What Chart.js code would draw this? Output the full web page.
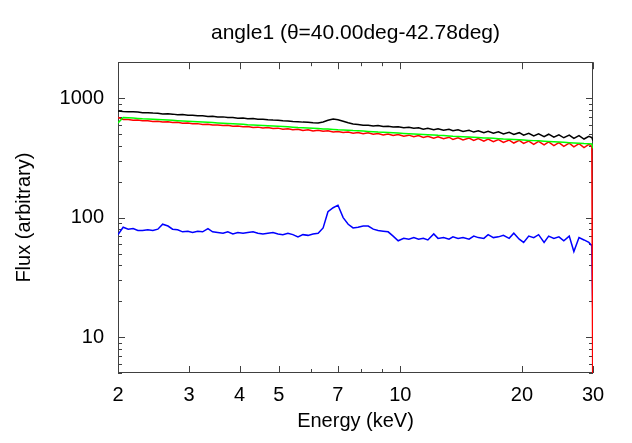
<!DOCTYPE html>
<html>
<head>
<meta charset="utf-8">
<script src="https://cdn.jsdelivr.net/npm/chart.js@4.4.1/dist/chart.umd.min.js"></script>
<style>
  body { margin: 0; background: #fff; }
  #wrap { width: 632px; height: 443px; }
</style>
</head>
<body>
<div id="wrap"><canvas id="myChart"></canvas></div>
<script>
// energy channels (keV)
const energy = [
  2.00, 2.06, 2.12, 2.18, 2.24, 2.30, 2.37, 2.44, 2.51, 2.58,
  2.66, 2.73, 2.81, 2.89, 2.98, 3.06, 3.15, 3.24, 3.34, 3.43,
  3.53, 3.64, 3.74, 3.85, 3.96, 4.08, 4.19, 4.32, 4.44, 4.57,
  4.70, 4.84, 4.98, 5.12, 5.27, 5.42, 5.58, 5.74, 5.91, 6.08,
  6.26, 6.44, 6.62, 6.82, 7.01, 7.22, 7.43, 7.64, 7.86, 8.09,
  8.33, 8.57, 8.81, 9.07, 9.33, 9.60, 9.88, 10.2, 10.5, 10.8,
  11.1, 11.4, 11.7, 12.1, 12.4, 12.8, 13.2, 13.5, 13.9, 14.3,
  14.8, 15.2, 15.6, 16.1, 16.5, 17.0, 17.5, 18.0, 18.6, 19.1,
  19.7, 20.2, 20.8, 21.4, 22.0, 22.7, 23.3, 24.0, 24.7, 25.4,
  26.2, 26.9, 27.7, 28.5, 29.3, 29.8, 30.0
];

// black
const totalFlux = [
  780, 772, 770, 768, 764, 755, 756, 750, 748, 738,
  740, 735, 726, 728, 719, 720, 711, 712, 703, 704,
  695, 697, 688, 689, 680, 683, 672, 674, 665, 667,
  659, 655, 654, 646, 645, 638, 636, 630, 628, 622,
  620, 632, 652, 668, 660, 640, 622, 608, 602, 592,
  594, 585, 589, 579, 582, 573, 576, 566, 570, 560,
  566, 550, 560, 545, 555, 538, 549, 533, 544, 527,
  539, 520, 533, 514, 528, 508, 523, 502, 518, 496,
  514, 489, 508, 483, 503, 477, 499, 472, 494, 466,
  490, 460, 485, 455, 480, 468, 440
];

// red
const directFlux = [
  688, 664, 663, 654, 655, 646, 647, 639, 641, 631,
  634, 625, 627, 617, 619, 610, 612, 602, 605, 596,
  597, 589, 592, 582, 585, 575, 579, 568, 572, 563,
  567, 556, 561, 549, 555, 543, 548, 537, 543, 531,
  538, 528, 533, 521, 526, 516, 521, 509, 515, 503,
  512, 498, 505, 492, 501, 486, 496, 481, 490, 475,
  486, 469, 480, 463, 475, 457, 471, 451, 466, 447,
  463, 443, 458, 436, 454, 432, 450, 426, 446, 421,
  443, 418, 437, 411, 434, 406, 430, 401, 425, 395,
  420, 391, 416, 386, 410, 395, 1
];

// green
const modelFlux = [
  620, 688, 685, 681, 677, 673, 670, 666, 663, 659,
  656, 652, 648, 645, 641, 638, 634, 631, 627, 624,
  620, 617, 614, 610, 607, 604, 600, 597, 594, 591,
  587, 584, 581, 578, 575, 572, 568, 566, 562, 559,
  557, 553, 551, 547, 544, 542, 539, 535, 533, 530,
  527, 524, 521, 519, 516, 513, 511, 507, 504, 502,
  499, 496, 494, 491, 488, 486, 483, 480, 478, 476,
  473, 471, 468, 465, 463, 461, 458, 455, 453, 451,
  448, 446, 443, 441, 439, 436, 434, 431, 429, 427,
  424, 422, 420, 417, 415, 414, 380
];

// blue
const reflectedFlux = [
  72, 83, 80, 81, 78, 78, 79, 78, 80, 88,
  85, 80, 79, 76, 77, 75, 77, 76, 81, 76,
  75, 74, 76, 73, 75, 74, 75, 76, 74, 73,
  74, 75, 73, 72, 74, 72, 69, 72, 71, 73,
  74, 82, 112, 121, 127, 100, 88, 82, 83, 85,
  85, 80, 78, 77, 76, 70, 64, 67, 66, 68,
  66, 67, 65, 73, 67, 68, 66, 69, 67, 68,
  66, 70, 68, 67, 72, 68, 69, 71, 67, 74,
  66, 62, 70, 68, 72, 62, 70, 67, 69, 64,
  70, 52, 68, 65, 62, 58, 12
];

const xMajor = [2, 3, 4, 5, 7, 10, 20, 30];
const xMinor = [6, 8, 9];
const yMajor = [10, 100, 1000];
const yMinor = [5, 6, 7, 8, 9, 20, 30, 40, 50, 60, 70, 80, 90,
  200, 300, 400, 500, 600, 700, 800, 900, 2000];

function points(arr) {
  return energy.map((e, i) => ({ x: e, y: arr[i] }));
}

function line(arr, color) {
  return {
    data: points(arr),
    borderColor: color,
    borderWidth: 1.5,
    pointRadius: 0,
    fill: false
  };
}

// gnuplot style box with inward ticks on all four sides
const boxTicks = {
  id: 'boxTicks',
  beforeDatasetsDraw(chart) {
    const { ctx, chartArea: a, scales: { x, y } } = chart;
    ctx.save();
    ctx.strokeStyle = '#404040';
    ctx.lineWidth = 1;
    ctx.strokeRect(Math.round(a.left) + 0.5, Math.round(a.top) + 0.5,
      Math.round(a.width) - 1, Math.round(a.height) - 1);
    ctx.beginPath();
    xMajor.concat(xMinor).forEach(v => {
      const px = Math.round(x.getPixelForValue(v)) + 0.5;
      const len = xMajor.includes(v) ? 7 : 4;
      ctx.moveTo(px, a.bottom); ctx.lineTo(px, a.bottom - len);
      ctx.moveTo(px, a.top); ctx.lineTo(px, a.top + len);
    });
    yMajor.concat(yMinor).forEach(v => {
      const py = Math.round(y.getPixelForValue(v)) + 0.5;
      const len = yMajor.includes(v) ? 7 : 4;
      ctx.moveTo(a.left, py); ctx.lineTo(a.left + len, py);
      ctx.moveTo(a.right, py); ctx.lineTo(a.right - len, py);
    });
    ctx.stroke();
    ctx.restore();
  }
};

Chart.defaults.font.family = "'Liberation Sans', Arial, sans-serif";
Chart.defaults.font.size = 20;
Chart.defaults.color = '#000';

new Chart(document.getElementById('myChart'), {
  type: 'line',
  data: {
    datasets: [
      line(modelFlux, '#00ff00'),
      line(directFlux, '#ff0000'),
      line(totalFlux, '#000000'),
      line(reflectedFlux, '#0000ff')
    ]
  },
  plugins: [boxTicks],
  options: {
    responsive: true,
    maintainAspectRatio: false,
    animation: false,
    layout: { padding: { left: 0, right: 39, top: 0, bottom: 0 } },
    plugins: {
      legend: { display: false },
      tooltip: { enabled: false },
      title: {
        display: true,
        text: 'angle1 (θ=40.00deg-42.78deg)',
        fullSize: false,
        font: { size: 21, weight: 'normal' },
        color: '#000',
        padding: { top: 21, bottom: 16 }
      }
    },
    scales: {
      x: {
        type: 'logarithmic',
        min: 2,
        max: 30,
        afterBuildTicks: s => { s.ticks = xMajor.concat(xMinor).sort((a, b) => a - b).map(v => ({ value: v })); },
        afterFit: s => { s.height = 70; },
        grid: { display: false, drawTicks: false },
        border: { display: false },
        ticks: {
          autoSkip: false,
          maxRotation: 0,
          padding: 10,
          callback: v => xMajor.includes(v) ? String(v) : ''
        },
        title: { display: true, text: 'Energy (keV)', padding: { top: 0, bottom: 10 } }
      },
      y: {
        type: 'logarithmic',
        min: 5,
        max: 2000,
        afterBuildTicks: s => { s.ticks = yMajor.concat(yMinor).sort((a, b) => a - b).map(v => ({ value: v })); },
        afterFit: s => { s.width = 118; },
        grid: { display: false, drawTicks: false },
        border: { display: false },
        ticks: {
          autoSkip: false,
          padding: 14,
          callback: v => yMajor.includes(v) ? String(v) : ''
        },
        title: { display: true, text: 'Flux (arbitrary)', padding: { top: 12, bottom: 0 } }
      }
    }
  }
});
</script>
</body>
</html>
